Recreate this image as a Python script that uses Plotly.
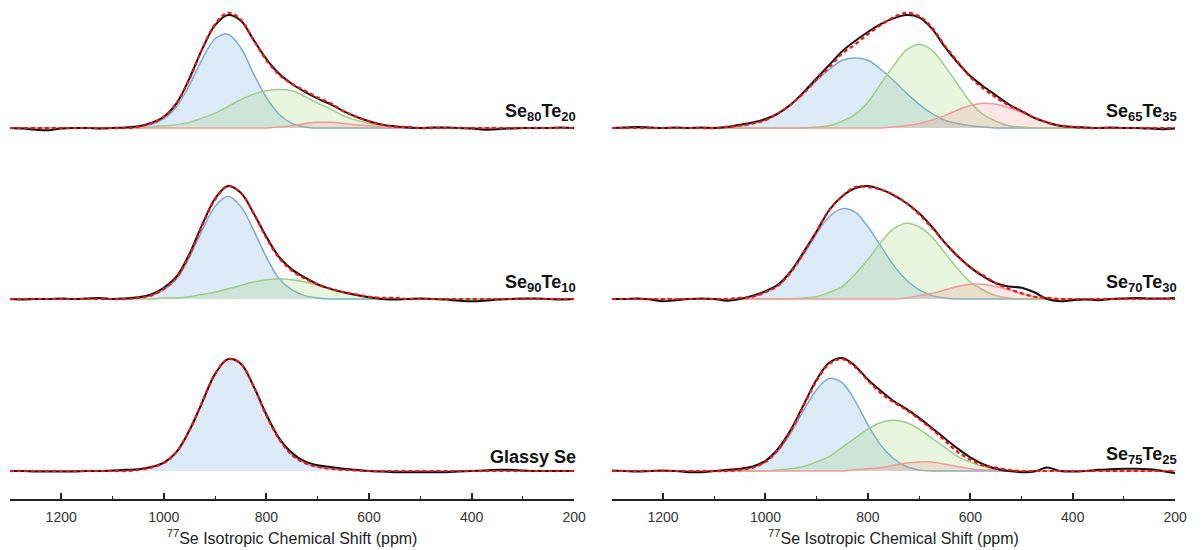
import plotly.graph_objects as go

# chemical shift grid (ppm), 1300 -> 200
PPM = list(range(1300, 199, -25))

TICK_VALS = [1200, 1000, 800, 600, 400, 200]
X_TITLE = "<sup>77</sup>Se Isotropic Chemical Shift (ppm)"

# ---------------- Se80Te20 ----------------
S80_BLACK = [0.0, -0.005, -0.015, -0.02, -0.005, 0.0, 0.0, -0.005, 0.0, 0.005,
             0.015, 0.045, 0.10, 0.22, 0.44, 0.70, 0.91, 1.0, 0.95, 0.78,
             0.61, 0.48, 0.39, 0.32, 0.26, 0.21, 0.15, 0.10, 0.06, 0.03,
             0.015, 0.005, 0.0, 0.005, 0.005, 0.0, -0.005, -0.015, -0.01, -0.005,
             0.0, 0.0, 0.0, 0.005, 0.0]
S80_BLUE = [0, 0, 0, 0, 0, 0, 0, 0, 0, 0,
            0.01, 0.03, 0.08, 0.19, 0.38, 0.61, 0.79, 0.83, 0.71, 0.48,
            0.27, 0.12, 0.04, 0.01, 0, 0, 0, 0, 0, 0,
            0, 0, 0, 0, 0, 0, 0, 0, 0, 0,
            0, 0, 0, 0, 0]
S80_GREEN = [0, 0, 0, 0, 0, 0, 0, 0, 0, 0,
             0, 0.01, 0.02, 0.03, 0.05, 0.09, 0.13, 0.19, 0.25, 0.30,
             0.33, 0.34, 0.33, 0.28, 0.22, 0.17, 0.11, 0.07, 0.04, 0.02,
             0.01, 0.01, 0, 0, 0, 0, 0, 0, 0, 0,
             0, 0, 0, 0, 0]
S80_RED = [0, 0, 0, 0, 0, 0, 0, 0, 0, 0,
           0, 0, 0, 0, 0, 0, 0, 0, 0, 0,
           0, 0.01, 0.02, 0.04, 0.05, 0.05, 0.04, 0.03, 0.02, 0.01,
           0, 0, 0, 0, 0, 0, 0, 0, 0, 0,
           0, 0, 0, 0, 0]

# ---------------- Se90Te10 ----------------
S90_BLACK = [0.0, -0.005, 0.0, 0.0, 0.005, 0.0, 0.005, 0.01, 0.0, 0.005,
             0.015, 0.04, 0.10, 0.20, 0.40, 0.66, 0.89, 1.0, 0.94, 0.76,
             0.55, 0.37, 0.26, 0.19, 0.13, 0.09, 0.06, 0.035, 0.015, 0.0,
             -0.005, 0.0, 0.005, 0.0, -0.005, -0.015, -0.02, -0.015, -0.005, 0.0,
             0.005, 0.005, 0.0, -0.005, 0.0]
S90_BLUE = [0, 0, 0, 0, 0, 0, 0, 0, 0, 0,
            0.01, 0.03, 0.08, 0.18, 0.37, 0.61, 0.82, 0.91, 0.82, 0.61,
            0.37, 0.18, 0.08, 0.03, 0.01, 0, 0, 0, 0, 0,
            0, 0, 0, 0, 0, 0, 0, 0, 0, 0,
            0, 0, 0, 0, 0]
S90_GREEN = [0, 0, 0, 0, 0, 0, 0, 0, 0, 0,
             0, 0, 0.01, 0.01, 0.02, 0.04, 0.06, 0.09, 0.12, 0.15,
             0.17, 0.18, 0.17, 0.15, 0.12, 0.09, 0.06, 0.04, 0.02, 0.01,
             0.01, 0, 0, 0, 0, 0, 0, 0, 0, 0,
             0, 0, 0, 0, 0]

# ---------------- Glassy Se ----------------
SE_BLACK = [0.0, 0.0, -0.005, -0.005, -0.005, -0.005, 0.0, 0.0, 0.005, 0.01,
            0.015, 0.035, 0.075, 0.17, 0.36, 0.61, 0.86, 0.99, 0.95, 0.75,
            0.50, 0.29, 0.16, 0.085, 0.05, 0.035, 0.02, 0.01, 0.0, -0.005,
            -0.01, -0.01, -0.01, -0.01, -0.01, -0.005, 0.0, 0.005, 0.01, 0.01,
            0.005, 0.0, 0.0, 0.0, 0.0]
SE_BLUE = [0, 0, 0, 0, 0, 0, 0, 0, 0, 0,
           0.01, 0.03, 0.07, 0.17, 0.36, 0.61, 0.86, 0.99, 0.95, 0.75,
           0.49, 0.28, 0.14, 0.07, 0.035, 0.02, 0.01, 0.005, 0, 0,
           0, 0, 0, 0, 0, 0, 0, 0, 0, 0,
           0, 0, 0, 0, 0]

# ---------------- Se65Te35 ----------------
S65_BLACK = [0.0, 0.005, 0.01, 0.005, 0.0, 0.005, 0.0, 0.005, 0.0, 0.01,
             0.03, 0.05, 0.08, 0.13, 0.21, 0.32, 0.44, 0.56, 0.68, 0.77,
             0.85, 0.92, 0.97, 1.0, 0.98, 0.88, 0.72, 0.58, 0.46, 0.37,
             0.29, 0.21, 0.15, 0.09, 0.05, 0.02, 0.01, 0.005, 0.0, 0.005,
             0.0, 0.0, -0.005, -0.01, -0.005]
S65_BLUE = [0, 0, 0, 0, 0, 0, 0, 0, 0, 0.01,
            0.02, 0.04, 0.07, 0.13, 0.21, 0.31, 0.42, 0.52, 0.60, 0.62,
            0.60, 0.52, 0.42, 0.31, 0.21, 0.13, 0.07, 0.04, 0.02, 0.01,
            0, 0, 0, 0, 0, 0, 0, 0, 0, 0,
            0, 0, 0, 0, 0]
S65_GREEN = [0, 0, 0, 0, 0, 0, 0, 0, 0, 0,
             0, 0, 0, 0, 0, 0, 0.01, 0.02, 0.06, 0.12,
             0.23, 0.39, 0.55, 0.69, 0.74, 0.69, 0.55, 0.39, 0.23, 0.12,
             0.06, 0.02, 0.01, 0, 0, 0, 0, 0, 0, 0,
             0, 0, 0, 0, 0]
S65_RED = [0, 0, 0, 0, 0, 0, 0, 0, 0, 0,
           0, 0, 0, 0, 0, 0, 0, 0, 0, 0,
           0, 0, 0.01, 0.02, 0.04, 0.07, 0.11, 0.16, 0.20, 0.22,
           0.21, 0.18, 0.14, 0.09, 0.05, 0.02, 0.01, 0, 0, 0,
           0, 0, 0, 0, 0]

# ---------------- Se70Te30 ----------------
S70_BLACK = [0.0, 0.0, 0.005, -0.005, -0.02, -0.01, 0.0, 0.005, 0.0, -0.015,
             0.0, 0.03, 0.07, 0.13, 0.25, 0.42, 0.60, 0.79, 0.91, 0.98,
             1.0, 0.97, 0.92, 0.85, 0.76, 0.64, 0.50, 0.38, 0.28, 0.20,
             0.14, 0.11, 0.10, 0.06, 0.0, -0.02, -0.01, -0.005, -0.01, 0.0,
             0.005, 0.01, 0.005, 0.005, 0.01]
S70_BLUE = [0, 0, 0, 0, 0, 0, 0, 0, 0, 0,
            0.01, 0.02, 0.06, 0.12, 0.24, 0.40, 0.58, 0.73, 0.80, 0.77,
            0.64, 0.47, 0.30, 0.17, 0.08, 0.03, 0.01, 0, 0, 0,
            0, 0, 0, 0, 0, 0, 0, 0, 0, 0,
            0, 0, 0, 0, 0]
S70_GREEN = [0, 0, 0, 0, 0, 0, 0, 0, 0, 0,
             0, 0, 0, 0, 0, 0.01, 0.02, 0.06, 0.11, 0.22,
             0.35, 0.50, 0.62, 0.67, 0.64, 0.55, 0.41, 0.27, 0.15, 0.08,
             0.03, 0.01, 0, 0, 0, 0, 0, 0, 0, 0,
             0, 0, 0, 0, 0]
S70_RED = [0, 0, 0, 0, 0, 0, 0, 0, 0, 0,
           0, 0, 0, 0, 0, 0, 0, 0, 0, 0,
           0, 0, 0, 0.01, 0.03, 0.05, 0.08, 0.11, 0.13, 0.13,
           0.11, 0.08, 0.05, 0.02, 0.01, 0, 0, 0, 0, 0,
           0, 0, 0, 0, 0]

# ---------------- Se75Te25 ----------------
S75_BLACK = [0.005, 0.0, -0.005, 0.0, 0.005, 0.0, -0.01, -0.01, 0.0, 0.01,
             0.02, 0.04, 0.09, 0.20, 0.37, 0.59, 0.81, 0.96, 1.0, 0.93,
             0.81, 0.71, 0.62, 0.55, 0.47, 0.38, 0.29, 0.20, 0.12, 0.06,
             0.02, 0.0, -0.01, -0.005, 0.03, 0.0, -0.005, 0.0, 0.01, 0.015,
             0.02, 0.02, 0.015, 0.0, -0.02]
S75_BLUE = [0, 0, 0, 0, 0, 0, 0, 0, 0, 0,
            0.01, 0.03, 0.08, 0.18, 0.34, 0.54, 0.72, 0.82, 0.78, 0.62,
            0.41, 0.23, 0.11, 0.04, 0.01, 0, 0, 0, 0, 0,
            0, 0, 0, 0, 0, 0, 0, 0, 0, 0,
            0, 0, 0, 0, 0]
S75_GREEN = [0, 0, 0, 0, 0, 0, 0, 0, 0, 0,
             0, 0, 0, 0.01, 0.02, 0.04, 0.08, 0.13, 0.21, 0.29,
             0.37, 0.43, 0.45, 0.43, 0.37, 0.29, 0.21, 0.13, 0.08, 0.04,
             0.02, 0.01, 0, 0, 0, 0, 0, 0, 0, 0,
             0, 0, 0, 0, 0]
S75_RED = [0, 0, 0, 0, 0, 0, 0, 0, 0, 0,
           0, 0, 0, 0, 0, 0, 0, 0, 0, 0.01,
           0.02, 0.03, 0.05, 0.07, 0.08, 0.08, 0.06, 0.04, 0.02, 0.01,
           0.01, 0, 0, 0, 0, 0, 0, 0, 0, 0,
           0, 0, 0, 0, 0]


def label(a, b):
    sub = '<sub><span style="font-size:13px">{}</span></sub>'
    return "<b>Se" + sub.format(a) + "Te" + sub.format(b) + "</b>"


LABELS = {
    "S80": label(80, 20),
    "S90": label(90, 10),
    "SE": "<b>Glassy Se</b>",
    "S65": label(65, 35),
    "S70": label(70, 30),
    "S75": label(75, 25),
}

# panel -> (x axis, y axis, black, [components as (values, kind)])
PANELS = [
    ("S80", "x", "y", S80_BLACK, [(S80_BLUE, "blue"), (S80_GREEN, "green"), (S80_RED, "red")]),
    ("S90", "x", "y2", S90_BLACK, [(S90_BLUE, "blue"), (S90_GREEN, "green")]),
    ("SE", "x", "y3", SE_BLACK, [(SE_BLUE, "blue")]),
    ("S65", "x2", "y4", S65_BLACK, [(S65_BLUE, "blue"), (S65_GREEN, "green"), (S65_RED, "red")]),
    ("S70", "x2", "y5", S70_BLACK, [(S70_BLUE, "blue"), (S70_GREEN, "green"), (S70_RED, "red")]),
    ("S75", "x2", "y6", S75_BLACK, [(S75_BLUE, "blue"), (S75_GREEN, "green"), (S75_RED, "red")]),
]

STYLE = {
    "blue": dict(line="#78acd6", fill="rgba(120,172,225,0.25)"),
    "green": dict(line="#9dcf86", fill="rgba(150,210,110,0.22)"),
    "red": dict(line="#f29a9a", fill="rgba(245,130,130,0.20)"),
}

FONT = "Liberation Sans, Arial, sans-serif"

fig = go.Figure()
annotations = []
for key, xa, ya, black, comps in PANELS:
    fit = [0.0] * len(PPM)
    for vals, kind in comps:
        fit = [f + v for f, v in zip(fit, vals)]
        st = STYLE[kind]
        fig.add_trace(go.Scatter(
            x=PPM, y=vals, xaxis=xa, yaxis=ya, mode="lines",
            line=dict(color=st["line"], width=1.5, shape="spline", smoothing=1.0),
            fill="tozeroy", fillcolor=st["fill"], hoverinfo="skip", showlegend=False))
    fig.add_trace(go.Scatter(
        x=PPM, y=black, xaxis=xa, yaxis=ya, mode="lines",
        line=dict(color="#111111", width=2, shape="spline", smoothing=1.0),
        hoverinfo="skip", showlegend=False))
    fig.add_trace(go.Scatter(
        x=PPM, y=fit, xaxis=xa, yaxis=ya, mode="lines",
        line=dict(color="#ff1010", width=2.2, dash="4px,3px", shape="spline", smoothing=1.0),
        hoverinfo="skip", showlegend=False))
    annotations.append(dict(
        x=200, y=0.02, xref=xa, yref=ya, text=LABELS[key], showarrow=False,
        xanchor="right", yanchor="bottom", xshift=4,
        font=dict(family=FONT, size=18, color="#111111")))

XDOM_L = [10 / 1203, 580 / 1203]
XDOM_R = [618 / 1203, 1187 / 1203]
AXIS_POS = 50 / 550


def xaxis_cfg(dom):
    return dict(
        domain=dom, range=[1300, 200], anchor="free", position=AXIS_POS,
        showline=True, linecolor="#222222", linewidth=1.5,
        showgrid=False, zeroline=False,
        tickmode="array", tickvals=TICK_VALS,
        ticks="inside", ticklen=6, tickwidth=1.5, tickcolor="#222222",
        minor=dict(ticks="inside", ticklen=3, tickwidth=1.2, tickcolor="#222222",
                   tickmode="array", tickvals=[1300, 1100, 900, 700, 500, 300]),
        ticklabelstandoff=4,
        tickfont=dict(family=FONT, size=14, color="#333333"),
        title=dict(text=X_TITLE, standoff=8,
                   font=dict(family=FONT, size=16, color="#222222")),
        fixedrange=True,
    )


Y_RANGE = [-0.1, 1.1]
Y_DOMS = [[0.7467, 0.9932], [0.4358, 0.6823], [0.1231, 0.3696]]


def yaxis_cfg(dom, anchor):
    return dict(domain=dom, range=Y_RANGE, anchor=anchor, visible=False,
                showgrid=False, zeroline=False, fixedrange=True)


fig.update_layout(
    width=1203, height=550,
    margin=dict(l=0, r=0, t=0, b=0),
    paper_bgcolor="white", plot_bgcolor="white",
    showlegend=False,
    xaxis=xaxis_cfg(XDOM_L),
    xaxis2=xaxis_cfg(XDOM_R),
    yaxis=yaxis_cfg(Y_DOMS[0], "x"),
    yaxis2=yaxis_cfg(Y_DOMS[1], "x"),
    yaxis3=yaxis_cfg(Y_DOMS[2], "x"),
    yaxis4=yaxis_cfg(Y_DOMS[0], "x2"),
    yaxis5=yaxis_cfg(Y_DOMS[1], "x2"),
    yaxis6=yaxis_cfg(Y_DOMS[2], "x2"),
    annotations=annotations,
)

fig.write_html("out.html")
